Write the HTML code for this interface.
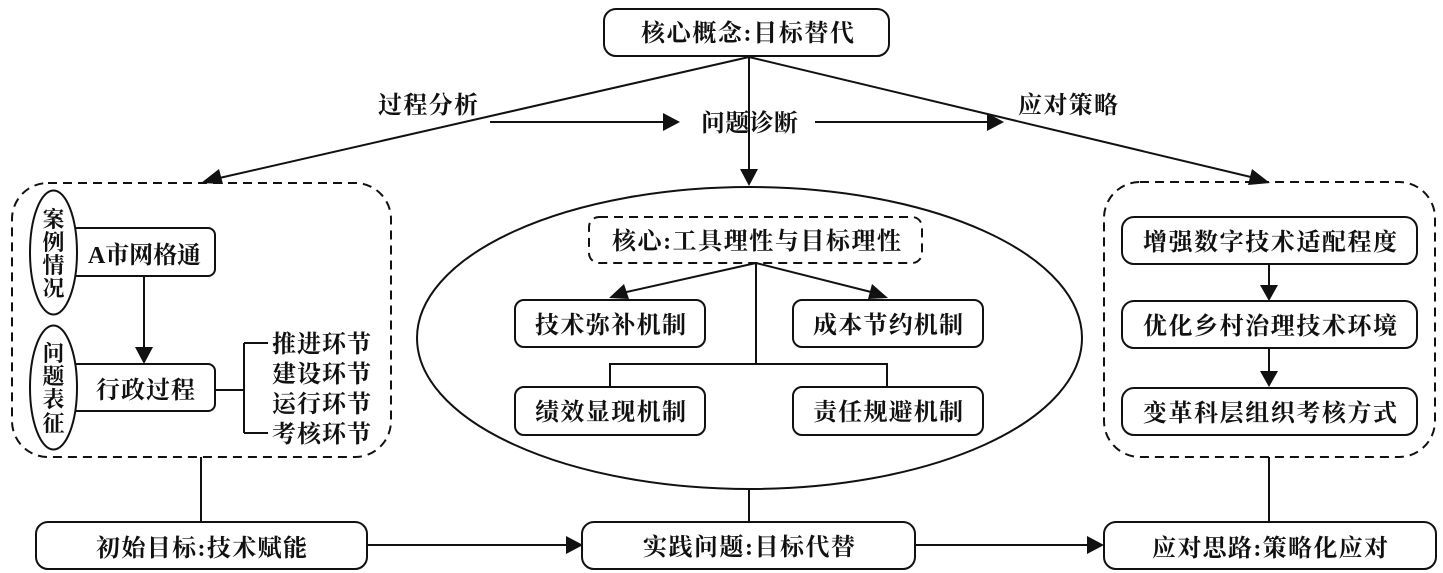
<!DOCTYPE html>
<html><head><meta charset="utf-8"><style>
html,body{margin:0;padding:0;background:#fff;width:1443px;height:573px;overflow:hidden}
svg{display:block}
text{font-family:"Liberation Serif","Noto Serif CJK SC",serif;font-size:24px;font-weight:700;fill:#111;transform:translateY(1px)}
text.v{font-size:22px}
.l{stroke:#111;stroke-width:2;fill:none}
.b{stroke:#111;stroke-width:2;fill:#fff}
.d{stroke:#111;stroke-width:2;fill:none;stroke-dasharray:9 6}
.h{fill:#111;stroke:none}
</style></head><body>
<svg width="1443" height="573" viewBox="0 0 1443 573" xmlns="http://www.w3.org/2000/svg">
<rect width="1443" height="573" fill="#fff"/>
<!-- containers -->
<rect class="d" x="12" y="183" width="379" height="274" rx="36"/>
<rect class="d" x="1104" y="182" width="331" height="275" rx="36"/>
<ellipse class="b" cx="749.500" cy="338" rx="332.500" ry="151" stroke-width="1.800"/>
<!-- top connectors -->
<path class="l" d="M749 57L215 179M749 57V170M749 57L1255 178"/>
<path class="h" d="M201 183L219 169L223 184ZM749 186L740 169H758ZM1270 183L1252 169L1248 185Z"/>
<path class="l" d="M490 122H665M815 122H990"/>
<path class="h" d="M680 122L663 113V131ZM1004 122L987 113V131Z"/>
<!-- top box -->
<rect class="b" x="604" y="9" width="285" height="47" rx="12"/>
<text x="641" y="40" textLength="213" lengthAdjust="spacing">核心概念:目标替代</text>
<!-- row labels -->
<text x="378" y="112" textLength="100" lengthAdjust="spacing">过程分析</text>
<text x="701" y="130" textLength="97" lengthAdjust="spacing">问题诊断</text>
<text x="1018" y="112" textLength="100" lengthAdjust="spacing">应对策略</text>
<!-- left inner -->
<path class="l" d="M144 276V350M215 390H244M244 343V433M244 343H268M244 433H268"/>
<path class="h" d="M144 364L135 347H153Z"/>
<rect class="b" x="70" y="228" width="145" height="48" rx="7"/>
<rect class="b" x="70" y="364" width="145" height="47" rx="7"/>
<ellipse class="b" cx="53.500" cy="252.500" rx="23.500" ry="62"/>
<ellipse class="b" cx="53.500" cy="387.500" rx="23.500" ry="62"/>
<text class="v" x="42.500" y="226">案</text><text class="v" x="42.500" y="249">例</text><text class="v" x="42.500" y="272">情</text><text class="v" x="42.500" y="295">况</text>
<text class="v" x="42.500" y="360">问</text><text class="v" x="42.500" y="383">题</text><text class="v" x="42.500" y="406">表</text><text class="v" x="42.500" y="430">征</text>
<text x="88" y="262" textLength="113" lengthAdjust="spacing">A市网格通</text>
<text x="96" y="397" textLength="99" lengthAdjust="spacing">行政过程</text>
<text x="272" y="351" textLength="99" lengthAdjust="spacing">推进环节</text>
<text x="272" y="381" textLength="99" lengthAdjust="spacing">建设环节</text>
<text x="272" y="411" textLength="99" lengthAdjust="spacing">运行环节</text>
<text x="272" y="441" textLength="99" lengthAdjust="spacing">考核环节</text>
<!-- center inner -->
<rect x="589" y="217" width="333" height="46" rx="10" fill="#fff" stroke="#111" stroke-width="2" stroke-dasharray="9 6"/>
<text x="612" y="248" textLength="289" lengthAdjust="spacing">核心:工具理性与目标理性</text>
<path class="l" d="M756 263L622 293M756 263L875 293M756 263V364M610 387V364H887V387"/>
<path class="h" d="M609 298L624 284L629 299ZM888 298L872 284L868 299Z"/>
<rect class="b" x="515" y="300" width="190" height="47" rx="9"/>
<rect class="b" x="793" y="300" width="190" height="47" rx="9"/>
<rect class="b" x="515" y="387" width="190" height="48" rx="9"/>
<rect class="b" x="793" y="387" width="190" height="48" rx="9"/>
<text x="535" y="332" textLength="151" lengthAdjust="spacing">技术弥补机制</text>
<text x="813" y="332" textLength="150" lengthAdjust="spacing">成本节约机制</text>
<text x="535" y="419" textLength="151" lengthAdjust="spacing">绩效显现机制</text>
<text x="813" y="419" textLength="150" lengthAdjust="spacing">责任规避机制</text>
<!-- right inner -->
<path class="l" d="M1269 264V288M1269 348V374"/>
<path class="h" d="M1269 301L1260 285H1278ZM1269 387L1260 371H1278Z"/>
<rect class="b" x="1122" y="217" width="295" height="47" rx="12"/>
<rect class="b" x="1122" y="301" width="295" height="47" rx="12"/>
<rect class="b" x="1122" y="388" width="295" height="47" rx="12"/>
<text x="1143" y="249" textLength="254" lengthAdjust="spacing">增强数字技术适配程度</text>
<text x="1143" y="333" textLength="254" lengthAdjust="spacing">优化乡村治理技术环境</text>
<text x="1143" y="420" textLength="254" lengthAdjust="spacing">变革科层组织考核方式</text>
<!-- bottom -->
<path class="l" d="M201 457V522M749 489V522M1269 457V522M367 545H570M915 545H1090"/>
<path class="h" d="M583 545L566 536V554ZM1104 545L1087 536V554Z"/>
<rect class="b" x="36" y="522" width="331" height="47" rx="12"/>
<rect class="b" x="582" y="522" width="333" height="47" rx="12"/>
<rect class="b" x="1104" y="522" width="332" height="47" rx="12"/>
<text x="96" y="555" textLength="211" lengthAdjust="spacing">初始目标:技术赋能</text>
<text x="643" y="554" textLength="212" lengthAdjust="spacing">实践问题:目标代替</text>
<text x="1152" y="555" textLength="236" lengthAdjust="spacing">应对思路:策略化应对</text>
</svg>
</body></html>
